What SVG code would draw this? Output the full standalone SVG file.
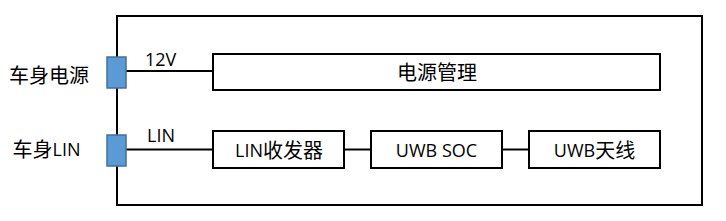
<svg xmlns="http://www.w3.org/2000/svg" width="726" height="221" viewBox="0 0 726 221">
<style>
.box{fill:#fff;stroke:#000;stroke-width:2}
.line{fill:none;stroke:#000;stroke-width:2}
.port{fill:#5B9BD5;stroke:#41719C;stroke-width:1.5}
text{font-family:"Open Sans","Noto Sans CJK SC",sans-serif;font-size:18px;fill:#000}
.k{font-size:20px}
.c{text-anchor:middle;dominant-baseline:central}
</style>
<rect width="726" height="221" fill="#fff"/>
<g id="enclosure"><rect class="box" x="117" y="16" width="585" height="189"/></g>
<g id="connectors">
<line class="line" x1="126" y1="71" x2="213" y2="71"/>
<line class="line" x1="126" y1="149.5" x2="213" y2="149.5"/>
<line class="line" x1="344" y1="149.5" x2="371" y2="149.5"/>
<line class="line" x1="502" y1="149.5" x2="529" y2="149.5"/>
<text x="145" y="65.5">12V</text>
<text x="147" y="141.5">LIN</text>
</g>
<g id="port-power"><rect class="port" x="107" y="57" width="19" height="31"/><text class="c k" x="49" y="75">车身电源</text></g>
<g id="port-lin"><rect class="port" x="107" y="135" width="19" height="31"/><text class="c" x="46.5" y="149"><tspan class="k">车身</tspan>LIN</text></g>
<g id="power-mgmt"><rect class="box" x="213" y="54" width="447" height="36"/><text class="c k" x="437" y="72">电源管理</text></g>
<g id="lin-transceiver"><rect class="box" x="213" y="131" width="131" height="37"/><text class="c" x="279" y="149.5">LIN<tspan class="k">收发器</tspan></text></g>
<g id="uwb-soc"><rect class="box" x="371" y="131" width="131" height="37"/><text class="c" x="436.5" y="149.5">UWB SOC</text></g>
<g id="uwb-antenna"><rect class="box" x="529" y="131" width="131" height="37"/><text class="c" x="594.5" y="149.5">UWB<tspan class="k">天线</tspan></text></g>
</svg>
